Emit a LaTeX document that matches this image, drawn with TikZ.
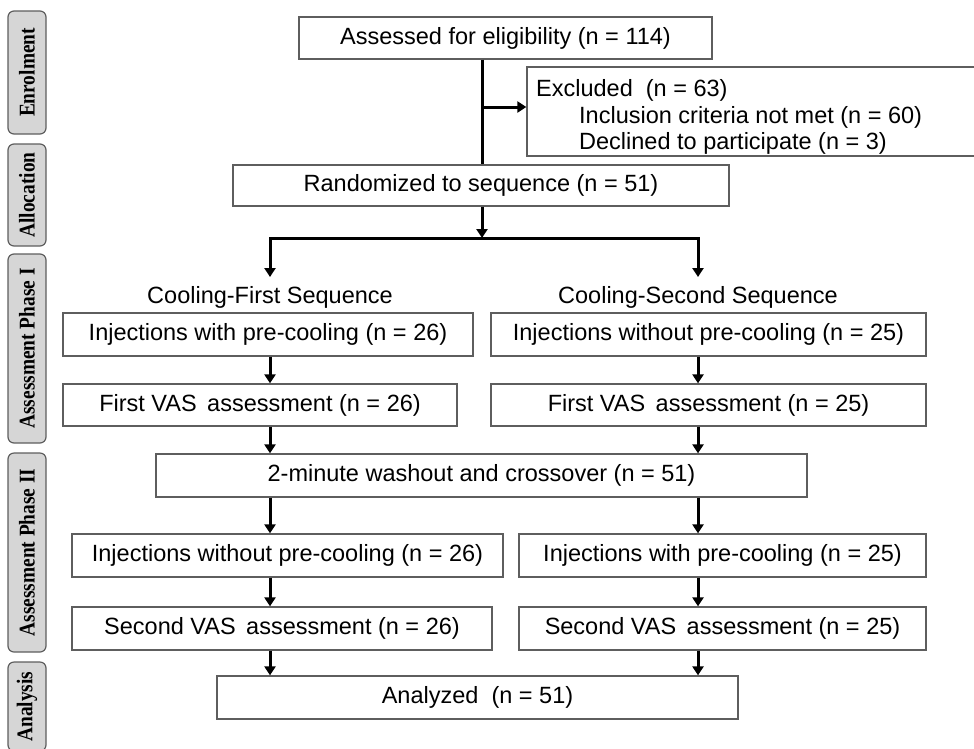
\documentclass[tikz,border=0pt]{standalone}
\usepackage{fontspec}
\setmainfont{Liberation Sans}
\newfontfamily\labfont{Liberation Serif}
\usetikzlibrary{arrows.meta}
\definecolor{boxgray}{HTML}{5E5E5E}
\definecolor{labfill}{HTML}{D6D6D6}
\newcommand{\labtext}[1]{\scalebox{0.86}[1]{#1}}
\begin{document}
\begin{tikzpicture}[x=1pt,y=-1pt,
  box/.style={draw=boxgray, line width=1.3pt, rectangle, inner sep=0pt, font=\fontsize{23.5}{28}\selectfont},
  lab/.style={draw=boxgray, fill=labfill, line width=1.2pt, rounded corners=6pt, rectangle, inner sep=0pt,
    minimum height=38pt, rotate=90, font=\labfont\bfseries\fontsize{22.5}{24}\selectfont},
  head/.style={inner sep=0pt, font=\fontsize{23.5}{28}\selectfont},
  ln/.style={line width=3pt, black},
  arr/.style={line width=3pt, black, -{Triangle[width=11pt,length=9pt]}}]
\useasboundingbox (0,0) rectangle (974,748);

% phase labels
\node[lab, minimum width=123pt] (l1) at (27,72.5) {\labtext{Enrolment}};
\node[lab, minimum width=102pt] (l2) at (27,195) {\labtext{Allocation}};
\node[lab, minimum width=189pt] (l3) at (27,348.5) {\labtext{Assessment Phase\ I}};
\node[lab, minimum width=199pt] (l4) at (27,552.5) {\labtext{Assessment Phase\ II}};
\node[lab, minimum width=89pt] (l5) at (27,706.5) {\labtext{Analysis}};

% boxes
\node[box, minimum width=413pt, minimum height=42pt] (elig) at (505.5,38) {Assessed for eligibility (n = 114)};
\node[box, minimum width=451pt, minimum height=89pt] (excl) at (752.5,111.5) {};
\node[anchor=west, align=left, inner sep=0pt, font=\fontsize{23.5}{26.5}\selectfont] (excltxt) at (536,117)
  {Excluded\ \ (n = 63)\\\hspace{43pt}Inclusion criteria not met (n = 60)\\\hspace{43pt}Declined to participate (n = 3)};
\node[box, minimum width=496pt, minimum height=41pt] (rand) at (481,185.5) {Randomized to sequence (n = 51)};

\node[head] (headL) at (270,297) {Cooling-First Sequence};
\node[head] (headR) at (698,297) {Cooling-Second Sequence};

\node[box, minimum width=410pt, minimum height=43pt] (injL1) at (268,334.5) {Injections with pre-cooling (n = 26)};
\node[box, minimum width=435pt, minimum height=43pt] (injR1) at (708.5,334.5) {Injections without pre-cooling (n = 25)};
\node[box, minimum width=394pt, minimum height=42pt] (vasL1) at (260,405) {First VAS\, assessment (n = 26)};
\node[box, minimum width=435pt, minimum height=42pt] (vasR1) at (708.5,405) {First VAS\, assessment (n = 25)};
\node[box, minimum width=651pt, minimum height=43pt] (wash) at (481.5,475.5) {2-minute washout and crossover (n = 51)};
\node[box, minimum width=431pt, minimum height=43pt] (injL2) at (287.5,555.5) {Injections without pre-cooling (n = 26)};
\node[box, minimum width=407pt, minimum height=43pt] (injR2) at (722.5,555.5) {Injections with pre-cooling (n = 25)};
\node[box, minimum width=420pt, minimum height=43pt] (vasL2) at (282,628.5) {Second VAS\, assessment (n = 26)};
\node[box, minimum width=407pt, minimum height=43pt] (vasR2) at (722.5,628.5) {Second VAS\, assessment (n = 25)};
\node[box, minimum width=521pt, minimum height=43pt] (anal) at (477.5,697.5) {Analyzed\ \ (n = 51)};

% helper coordinates
\coordinate (mainx) at (482,0);
\coordinate (colL) at (270,0);
\coordinate (colR) at (698,0);
\coordinate (excjoin) at (482,107);
\coordinate (split) at (482,238);
\coordinate (splitL) at (270,238);
\coordinate (splitR) at (698,238);
\coordinate (endL) at (270,277);
\coordinate (endR) at (698,277);

% connectors
\draw[ln] (elig.south -| mainx) -- (rand.north -| mainx);
\draw[arr] (excjoin) -- (excl.west |- excjoin);
\draw[arr] (rand.south -| mainx) -- (split);
\draw[ln, line cap=rect] (splitL) -- (splitR);
\draw[arr] (splitL) -- (endL);
\draw[arr] (splitR) -- (endR);

\draw[arr] (injL1.south -| colL) -- (vasL1.north -| colL);
\draw[arr] (injR1.south -| colR) -- (vasR1.north -| colR);
\draw[arr] (vasL1.south -| colL) -- (wash.north -| colL);
\draw[arr] (vasR1.south -| colR) -- (wash.north -| colR);
\draw[arr] (wash.south -| colL) -- (injL2.north -| colL);
\draw[arr] (wash.south -| colR) -- (injR2.north -| colR);
\draw[arr] (injL2.south -| colL) -- (vasL2.north -| colL);
\draw[arr] (injR2.south -| colR) -- (vasR2.north -| colR);
\draw[arr] (vasL2.south -| colL) -- (anal.north -| colL);
\draw[arr] (vasR2.south -| colR) -- (anal.north -| colR);
\end{tikzpicture}
\end{document}
